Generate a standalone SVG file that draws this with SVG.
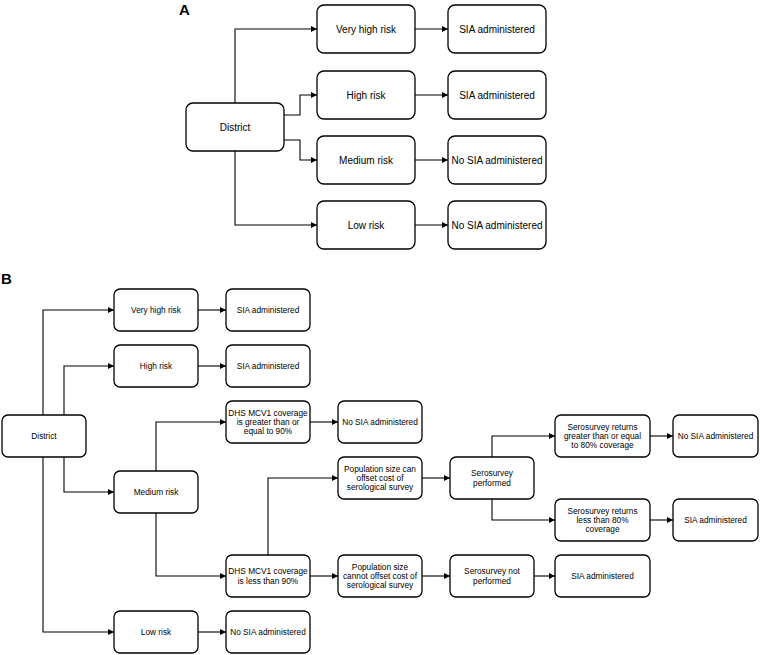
<svg xmlns="http://www.w3.org/2000/svg" width="760" height="655" viewBox="0 0 760 655">
<style>
.bg{fill:#fff}
.box{fill:#fff;stroke:#000;stroke-width:1.3}
.ln{fill:none;stroke:#000;stroke-width:1.1}
.ta{font-family:"Liberation Sans",Arial,sans-serif;font-size:10px;fill:#000;text-anchor:middle}
.tb{font-family:"Liberation Sans",Arial,sans-serif;font-size:8.3px;fill:#000;text-anchor:middle}
.lbl{font-family:"Liberation Sans",Arial,sans-serif;font-size:15px;font-weight:bold;fill:#000}
</style>
<defs>
<marker id="ar" markerUnits="userSpaceOnUse" markerWidth="7" markerHeight="7" refX="6" refY="3" orient="auto">
<path d="M0,0 L6,3 L0,6 z" fill="#000"/>
</marker>
</defs>
<rect class="bg" x="0" y="0" width="760" height="655"/>
<text class="lbl" x="179" y="15">A</text>
<text class="lbl" x="1" y="284">B</text>

<g id="connectors" marker-end="url(#ar)">
<path class="ln" d="M235,103 V29 H317"/>
<path class="ln" d="M235,151 V225 H317"/>
<path class="ln" d="M284,115 H300 V95 H317"/>
<path class="ln" d="M284,140 H300 V160 H317"/>
<path class="ln" d="M415,29 H448"/>
<path class="ln" d="M415,95 H448"/>
<path class="ln" d="M415,160 H448"/>
<path class="ln" d="M415,225 H448"/>

<path class="ln" d="M43,415 V310 H114"/>
<path class="ln" d="M64,415 V366 H114"/>
<path class="ln" d="M64,457 V492 H114"/>
<path class="ln" d="M43,457 V632 H114"/>
<path class="ln" d="M198,310 H226"/>
<path class="ln" d="M198,366 H226"/>
<path class="ln" d="M198,632 H226"/>
<path class="ln" d="M156,471 V422 H226"/>
<path class="ln" d="M156,513 V576 H226"/>
<path class="ln" d="M310,422 H338"/>
<path class="ln" d="M268,555 V478 H338"/>
<path class="ln" d="M310,576 H338"/>
<path class="ln" d="M422,478 H450"/>
<path class="ln" d="M422,576 H450"/>
<path class="ln" d="M492,457 V436 H555"/>
<path class="ln" d="M492,499 V520 H555"/>
<path class="ln" d="M650,436 H673"/>
<path class="ln" d="M650,520 H673"/>
<path class="ln" d="M534,576 H555"/>
</g>

<g id="a-district"><rect class="box" x="186" y="103" width="98" height="48" rx="7"/><text class="ta" x="235" y="131">District</text></g>
<g id="a-veryhigh"><rect class="box" x="317" y="5" width="98" height="48" rx="7"/><text class="ta" x="366" y="33">Very high risk</text></g>
<g id="a-high"><rect class="box" x="317" y="71" width="98" height="48" rx="7"/><text class="ta" x="366" y="99">High risk</text></g>
<g id="a-medium"><rect class="box" x="317" y="136" width="98" height="48" rx="7"/><text class="ta" x="366" y="164">Medium risk</text></g>
<g id="a-low"><rect class="box" x="317" y="201" width="98" height="48" rx="7"/><text class="ta" x="366" y="229">Low risk</text></g>
<g id="a-sia1"><rect class="box" x="448" y="5" width="98" height="48" rx="7"/><text class="ta" x="497" y="33">SIA administered</text></g>
<g id="a-sia2"><rect class="box" x="448" y="71" width="98" height="48" rx="7"/><text class="ta" x="497" y="99">SIA administered</text></g>
<g id="a-nosia1"><rect class="box" x="448" y="136" width="98" height="48" rx="7"/><text class="ta" x="497" y="164">No SIA administered</text></g>
<g id="a-nosia2"><rect class="box" x="448" y="201" width="98" height="48" rx="7"/><text class="ta" x="497" y="229">No SIA administered</text></g>

<g id="b-district"><rect class="box" x="2" y="415" width="84" height="42" rx="6"/><text class="tb" x="44" y="439">District</text></g>
<g id="b-veryhigh"><rect class="box" x="114" y="289" width="84" height="42" rx="6"/><text class="tb" x="156" y="313">Very high risk</text></g>
<g id="b-high"><rect class="box" x="114" y="345" width="84" height="42" rx="6"/><text class="tb" x="156" y="369">High risk</text></g>
<g id="b-medium"><rect class="box" x="114" y="471" width="84" height="42" rx="6"/><text class="tb" x="156" y="495">Medium risk</text></g>
<g id="b-low"><rect class="box" x="114" y="611" width="84" height="42" rx="6"/><text class="tb" x="156" y="635">Low risk</text></g>
<g id="b-sia1"><rect class="box" x="226" y="289" width="84" height="42" rx="6"/><text class="tb" x="268" y="313">SIA administered</text></g>
<g id="b-sia2"><rect class="box" x="226" y="345" width="84" height="42" rx="6"/><text class="tb" x="268" y="369">SIA administered</text></g>
<g id="b-dhs-ge"><rect class="box" x="226" y="401" width="84" height="42" rx="6"/><text class="tb" x="268" y="415.6">DHS MCV1 coverage<tspan x="268" dy="9.4">is greater than or</tspan><tspan x="268" dy="9.4">equal to 90%</tspan></text></g>
<g id="b-dhs-lt"><rect class="box" x="226" y="555" width="84" height="42" rx="6"/><text class="tb" x="268" y="574.3">DHS MCV1 coverage<tspan x="268" dy="9.4">is less than 90%</tspan></text></g>
<g id="b-nosia-low"><rect class="box" x="226" y="611" width="84" height="42" rx="6"/><text class="tb" x="268" y="635">No SIA administered</text></g>
<g id="b-nosia-dhs"><rect class="box" x="338" y="401" width="84" height="42" rx="6"/><text class="tb" x="380" y="425">No SIA administered</text></g>
<g id="b-pop-can"><rect class="box" x="338" y="457" width="84" height="42" rx="6"/><text class="tb" x="380" y="471.6">Population size can<tspan x="380" dy="9.4">offset cost of</tspan><tspan x="380" dy="9.4">serological survey</tspan></text></g>
<g id="b-pop-cannot"><rect class="box" x="338" y="555" width="84" height="42" rx="6"/><text class="tb" x="380" y="569.6">Population size<tspan x="380" dy="9.4">cannot offset cost of</tspan><tspan x="380" dy="9.4">serological survey</tspan></text></g>
<g id="b-sero-perf"><rect class="box" x="450" y="457" width="84" height="42" rx="6"/><text class="tb" x="492" y="476.3">Serosurvey<tspan x="492" dy="9.4">performed</tspan></text></g>
<g id="b-sero-notperf"><rect class="box" x="450" y="555" width="84" height="42" rx="6"/><text class="tb" x="492" y="574.3">Serosurvey not<tspan x="492" dy="9.4">performed</tspan></text></g>
<g id="b-sero-ge"><rect class="box" x="555" y="415" width="95" height="42" rx="6"/><text class="tb" x="602.5" y="429.6">Serosurvey returns<tspan x="602.5" dy="9.4">greater than or equal</tspan><tspan x="602.5" dy="9.4">to 80% coverage</tspan></text></g>
<g id="b-sero-lt"><rect class="box" x="555" y="499" width="95" height="42" rx="6"/><text class="tb" x="602.5" y="513.6">Serosurvey returns<tspan x="602.5" dy="9.4">less than 80%</tspan><tspan x="602.5" dy="9.4">coverage</tspan></text></g>
<g id="b-sia-notperf"><rect class="box" x="555" y="555" width="95" height="42" rx="6"/><text class="tb" x="602.5" y="579">SIA administered</text></g>
<g id="b-nosia-sero"><rect class="box" x="673" y="415" width="85" height="42" rx="6"/><text class="tb" x="715.5" y="439">No SIA administered</text></g>
<g id="b-sia-sero"><rect class="box" x="673" y="499" width="85" height="42" rx="6"/><text class="tb" x="715.5" y="523">SIA administered</text></g>
</svg>
